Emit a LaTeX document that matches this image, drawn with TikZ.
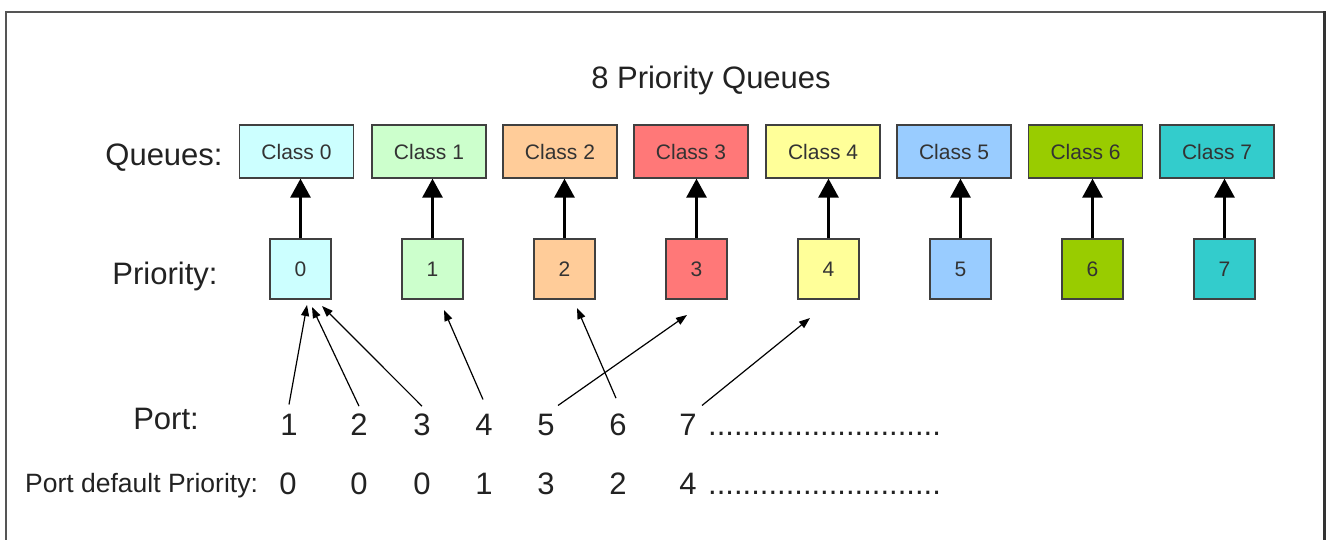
\documentclass[tikz,border=0pt]{standalone}
\usepackage{fontspec}
\setmainfont{Liberation Sans}
\usetikzlibrary{arrows.meta}
\definecolor{cq0}{HTML}{CCFFFF}
\definecolor{cq1}{HTML}{CCFFCC}
\definecolor{cq2}{HTML}{FFCC99}
\definecolor{cq3}{HTML}{FF7878}
\definecolor{cq4}{HTML}{FFFF99}
\definecolor{cq5}{HTML}{99CCFF}
\definecolor{cq6}{HTML}{99CC00}
\definecolor{cq7}{HTML}{33CCCC}
\definecolor{txt}{HTML}{222222}
\definecolor{frame}{HTML}{555555}
\begin{document}
\begin{tikzpicture}[x=1pt,y=-1pt,
  qbox/.style={draw=black!75, line width=1.3pt, minimum width=114pt, minimum height=53pt, inner sep=0pt, font=\fontsize{21}{21}\selectfont, text=black!80},
  pbox/.style={draw=black!75, line width=1.3pt, minimum width=61pt, minimum height=60pt, inner sep=0pt, font=\fontsize{21}{21}\selectfont, text=black!80},
  bigarrow/.style={line width=2.8pt, -{Triangle[length=19pt,width=20pt]}},
  thinarrow/.style={line width=1.2pt, -{Triangle[length=11pt,width=8pt]}},
  lbl/.style={font=\fontsize{31}{31}\selectfont, text=txt, inner sep=0pt, anchor=base},
  small/.style={font=\fontsize{26.5}{26.5}\selectfont, text=txt, inner sep=0pt, anchor=base},
  dig/.style={font=\fontsize{31}{31}\selectfont, text=txt, inner sep=0pt, anchor=base}]
\useasboundingbox (0,0) rectangle (1332,539);
\fill[white] (0,0) rectangle (1332,539);
% frame
\draw[line width=2pt, frame] (5.5,560) -- (5.5,12) -- (1324,12);
\draw[line width=3pt, black!80] (1324,11) -- (1324,560);
% title and row labels
\node[lbl] (title) at (711,88) {8 Priority Queues};
\node[lbl] (lq) at (164,165) {Queues:};
\node[lbl] (lp) at (165,284) {Priority:};
\node[lbl] (lport) at (166,429) {Port:};
\node[small, anchor=base west] (ldef) at (25,492) {Port default Priority:};
% queues
\foreach \i/\x in {0/296.5,1/429,2/560,3/691,4/823,5/954,6/1085.5,7/1217}{
  \node[qbox, fill=cq\i] (c\i) at (\x,151.5) {Class \i};
}
\foreach \i/\x in {0/300.5,1/432.5,2/564.5,3/696.5,4/828.5,5/960.5,6/1092.5,7/1224.5}{
  \node[pbox, fill=cq\i] (p\i) at (\x,269) {\i};
  \draw[bigarrow] (p\i.north) -- (p\i.north |- c\i.south);
}
% ports
\foreach \i/\x in {1/289,2/359,3/422,4/484,5/546,6/618,7/688}{
  \node[dig] (n\i) at (\x,435) {\i};
}
\foreach \i/\x/\v in {1/288/0,2/359/0,3/422/0,4/484/1,5/546/3,6/618/2,7/688/4}{
  \node[dig] (d\i) at (\x,494) {\v};
}
\node[dig, anchor=base west] (dots1) at (708,435) {...........................};
\node[dig, anchor=base west] (dots2) at (708,494) {...........................};
% tips
\coordinate (t1) at (307,305);
\coordinate (t2) at (312,307);
\coordinate (t3) at (322,306);
\coordinate (t4) at (444,310);
\coordinate (t5) at (687,315);
\coordinate (t6) at (577,308);
\coordinate (t7) at (810,318);
\draw[thinarrow] ([yshift=9pt]n1.north) -- (t1);
\draw[thinarrow] ([yshift=7pt]n2.north) -- (t2);
\draw[thinarrow] ([yshift=7pt]n3.north) -- (t3);
\draw[thinarrow] ([yshift=14pt,xshift=-1pt]n4.north) -- (t4);
\draw[thinarrow] ([yshift=8pt,xshift=12pt]n5.north) -- (t5);
\draw[thinarrow] ([yshift=15pt,xshift=-2pt]n6.north) -- (t6);
\draw[thinarrow] ([yshift=8pt,xshift=14pt]n7.north) -- (t7);
\end{tikzpicture}
\end{document}
